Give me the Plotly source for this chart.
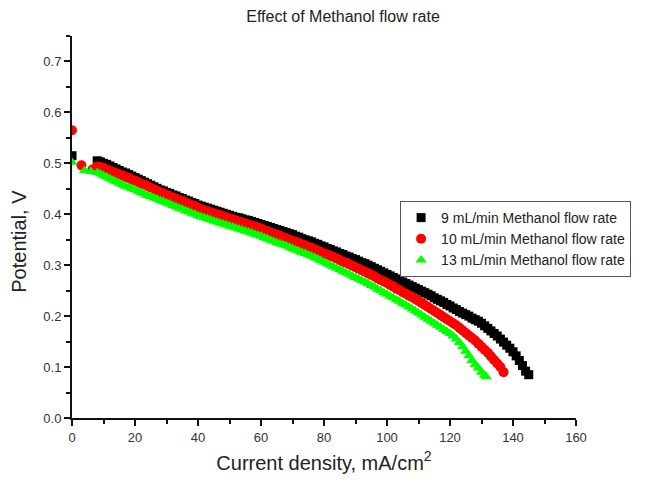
import plotly.graph_objects as go

# Current density (mA/cm2) and potential (V)
x_9 = [0] + list(range(8, 146))
v_9 = [0.515,
       0.505, 0.503, 0.500, 0.498, 0.495, 0.492, 0.489, 0.486, 0.483, 0.481, 0.478, 0.475, 0.472,
       0.469, 0.466, 0.463, 0.460, 0.457, 0.454, 0.451, 0.448, 0.446, 0.443, 0.441, 0.438, 0.436,
       0.433, 0.431, 0.428, 0.426, 0.423, 0.421, 0.418, 0.416, 0.414, 0.412, 0.410, 0.408, 0.406,
       0.404, 0.402, 0.400, 0.398, 0.396, 0.394, 0.393, 0.391, 0.389, 0.388, 0.386, 0.384, 0.382,
       0.380, 0.378, 0.376, 0.374, 0.372, 0.370, 0.368, 0.366, 0.364, 0.362, 0.360, 0.357, 0.355,
       0.352, 0.350, 0.348, 0.346, 0.343, 0.341, 0.338, 0.336, 0.333, 0.331, 0.328, 0.326, 0.323,
       0.321, 0.318, 0.316, 0.313, 0.311, 0.308, 0.305, 0.303, 0.300, 0.297, 0.294, 0.291, 0.288,
       0.285, 0.282, 0.279, 0.276, 0.273, 0.270, 0.267, 0.264, 0.261, 0.258, 0.255, 0.252, 0.249,
       0.246, 0.243, 0.240, 0.236, 0.233, 0.230, 0.227, 0.223, 0.220, 0.216, 0.213, 0.209, 0.206,
       0.203, 0.200, 0.196, 0.193, 0.190, 0.186, 0.181, 0.176, 0.171, 0.166, 0.161, 0.155, 0.149,
       0.143, 0.137, 0.130, 0.122, 0.113, 0.103, 0.092, 0.085]

x_10 = [0, 3, 6.5] + list(range(8, 138))
v_10 = [0.565, 0.496, 0.488,
        0.494, 0.493, 0.491, 0.488, 0.486, 0.483, 0.481, 0.478, 0.476, 0.473, 0.471, 0.468, 0.466,
        0.463, 0.460, 0.458, 0.455, 0.452, 0.449, 0.446, 0.443, 0.441, 0.438, 0.436, 0.433, 0.431,
        0.428, 0.426, 0.423, 0.421, 0.418, 0.416, 0.413, 0.410, 0.408, 0.406, 0.404, 0.402, 0.400,
        0.398, 0.396, 0.394, 0.392, 0.390, 0.388, 0.386, 0.384, 0.382, 0.380, 0.378, 0.376, 0.374,
        0.372, 0.369, 0.367, 0.364, 0.362, 0.360, 0.358, 0.355, 0.353, 0.350, 0.348, 0.346, 0.344,
        0.341, 0.339, 0.336, 0.334, 0.331, 0.329, 0.326, 0.323, 0.321, 0.318, 0.316, 0.313, 0.310,
        0.307, 0.305, 0.302, 0.299, 0.296, 0.293, 0.290, 0.287, 0.284, 0.281, 0.278, 0.274, 0.271,
        0.268, 0.265, 0.261, 0.258, 0.254, 0.251, 0.247, 0.244, 0.240, 0.237, 0.233, 0.230, 0.226,
        0.222, 0.218, 0.214, 0.210, 0.206, 0.202, 0.198, 0.194, 0.190, 0.186, 0.182, 0.177, 0.172,
        0.167, 0.162, 0.157, 0.152, 0.146, 0.140, 0.134, 0.128, 0.121, 0.114, 0.107, 0.100, 0.090]

x_13 = [0, 4, 6] + list(range(8, 132)) + [131.5]
v_13 = [0.502, 0.486, 0.484,
        0.482, 0.479, 0.476, 0.473, 0.470, 0.467, 0.464, 0.461, 0.458, 0.455, 0.453, 0.450, 0.448,
        0.445, 0.442, 0.440, 0.437, 0.435, 0.432, 0.430, 0.427, 0.425, 0.422, 0.420, 0.417, 0.415,
        0.412, 0.410, 0.407, 0.405, 0.402, 0.400, 0.397, 0.395, 0.393, 0.391, 0.389, 0.387, 0.385,
        0.383, 0.381, 0.379, 0.377, 0.375, 0.373, 0.371, 0.369, 0.367, 0.365, 0.363, 0.361, 0.359,
        0.357, 0.354, 0.352, 0.349, 0.347, 0.344, 0.342, 0.340, 0.338, 0.335, 0.333, 0.330, 0.328,
        0.325, 0.323, 0.320, 0.318, 0.315, 0.312, 0.309, 0.306, 0.303, 0.300, 0.297, 0.294, 0.291,
        0.288, 0.285, 0.282, 0.279, 0.276, 0.273, 0.270, 0.267, 0.264, 0.260, 0.257, 0.253, 0.250,
        0.246, 0.243, 0.239, 0.236, 0.232, 0.229, 0.225, 0.222, 0.218, 0.214, 0.210, 0.206, 0.202,
        0.198, 0.194, 0.190, 0.186, 0.182, 0.178, 0.174, 0.170, 0.166, 0.161, 0.155, 0.148, 0.140,
        0.131, 0.122, 0.113, 0.105, 0.098, 0.090, 0.084,
        0.081]

names = ["9 mL/min Methanol flow rate", "10 mL/min Methanol flow rate", "13 mL/min Methanol flow rate"]
x_ticks = [0, 20, 40, 60, 80, 100, 120, 140, 160]
y_ticks = [0.0, 0.1, 0.2, 0.3, 0.4, 0.5, 0.6, 0.7]

fig = go.Figure()
fig.add_trace(go.Scatter(x=x_9, y=v_9, mode="markers", name=names[0],
                         marker=dict(symbol="square", size=9, color="#000000")))
fig.add_trace(go.Scatter(x=x_10, y=v_10, mode="markers", name=names[1],
                         marker=dict(symbol="circle", size=10, color="#ff0000")))
fig.add_trace(go.Scatter(x=x_13, y=v_13, mode="markers", name=names[2],
                         marker=dict(symbol="triangle-up", size=10, color="#00ff00")))

FONT = "Liberation Sans, Arial, sans-serif"
axis_common = dict(showgrid=False, zeroline=False, showline=True, linecolor="#111",
                   linewidth=2, ticks="outside", ticklen=6, tickwidth=2, tickcolor="#111",
                   automargin=False,
                   tickfont=dict(family=FONT, size=13, color="#333"))

fig.update_xaxes(range=[0, 160], tickvals=x_ticks,
                 minor=dict(dtick=10, ticks="outside", ticklen=4, tickwidth=2, tickcolor="#111"),
                 title=dict(text="Current density, mA/cm<sup>2</sup>", standoff=12,
                            font=dict(family=FONT, size=20, color="#222")),
                 **axis_common)
fig.update_yaxes(range=[0, 0.75], tickvals=y_ticks, tickformat=".1f",
                 minor=dict(dtick=0.05, ticks="outside", ticklen=4, tickwidth=2, tickcolor="#111"),
                 **axis_common)

fig.add_annotation(text="Potential, V", textangle=-90, xref="paper", yref="paper",
                   x=-0.104, y=0.463, xanchor="center", yanchor="middle", showarrow=False,
                   font=dict(family=FONT, size=20, color="#222"))

fig.update_layout(
    width=656, height=483,
    margin=dict(l=64, r=88, t=28, b=73),
    paper_bgcolor="white", plot_bgcolor="white",
    title=dict(text="Effect of Methanol flow rate", x=335 / 656, xanchor="center",
               y=1 - 8.5 / 483, yanchor="middle",
               font=dict(family=FONT, size=16, color="#222")),
    legend=dict(x=0.651, y=0.568, xanchor="left", yanchor="top",
                bordercolor="#555", borderwidth=1, bgcolor="white",
                font=dict(family=FONT, size=14, color="#222"),
                tracegroupgap=0, itemwidth=30),
    showlegend=True,
)

fig.write_html("out.html")
